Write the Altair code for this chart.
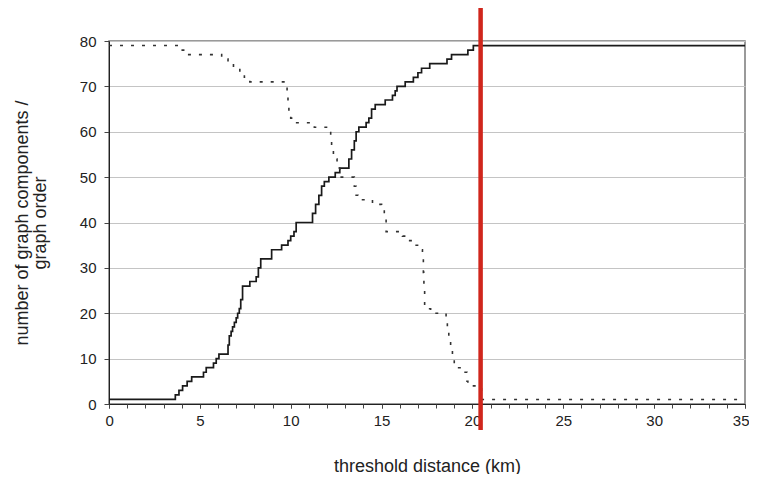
import altair as alt
import pandas as pd

# graph order (solid) - step start x (km) and value
order_x = [0, 3.65, 3.85, 4.05, 4.3, 4.55, 5.2, 5.35, 5.75, 5.9, 6.05, 6.55, 6.62, 6.72, 6.8, 6.9,
           7.0, 7.08, 7.17, 7.25, 7.35, 7.75, 8.1, 8.22, 8.35, 8.95, 9.5, 9.85, 10.0, 10.18, 10.3,
           11.2, 11.37, 11.55, 11.7, 11.85, 12.1, 12.45, 12.7, 13.2, 13.35, 13.5, 13.6, 13.75,
           14.15, 14.3, 14.45, 14.65, 15.2, 15.6, 15.75, 15.85, 16.3, 16.75, 17.0, 17.2, 17.65,
           18.6, 18.85, 19.75, 20.05, 35]
order_y = [1, 2, 3, 4, 5, 6, 7, 8, 9, 10, 11, 13, 15, 16, 17, 18,
           19, 20, 21, 23, 26, 27, 28, 30, 32, 34, 35, 36, 37, 38, 40,
           42, 44, 46, 48, 49, 50, 51, 52, 54, 56, 58, 60, 61,
           62, 63, 65, 66, 67, 68, 69, 70, 71, 72, 73, 74, 75,
           76, 77, 78, 79, 79]

# number of graph components (dotted)
comp_x = [0, 3.95, 4.3, 6.2, 6.55, 6.85, 7.2, 7.45, 7.75, 9.75, 9.8, 9.85, 9.9, 10.0, 10.2,
          11.3, 12.15, 12.2, 12.25, 12.35, 12.55, 12.7, 13.5, 13.6, 13.7, 14.5, 15.0, 15.15,
          15.25, 16.15, 16.35, 16.8, 17.15, 17.25, 17.3, 17.33, 17.37, 17.7, 18.55, 18.62,
          18.7, 18.8, 18.9, 19.0, 19.55, 19.7, 19.75, 20.5, 35]
comp_y = [79, 78, 77, 76, 75, 74, 73, 72, 71, 70, 68, 66, 64, 63, 62,
          61, 60, 58, 56, 54, 52, 50, 48, 46, 45, 44, 43, 41,
          38, 37, 36, 35, 34, 32, 29, 25, 21, 20, 19, 17,
          15, 12, 10, 8, 7, 5, 4, 1, 1]

threshold = [20.45]

x_labels = list(range(0, 36, 5))
x_minor = list(range(0, 36))
y_ticks = list(range(0, 81, 10))

order_df = pd.DataFrame({"x": order_x, "y": order_y})
comp_df = pd.DataFrame({"x": comp_x, "y": comp_y})
thr_df = pd.DataFrame({"x": threshold})

xscale = alt.Scale(domain=[0, 35], nice=False, zero=False)
yscale = alt.Scale(domain=[0, 80], nice=False)

xaxis = alt.Axis(
    orient="bottom",
    values=x_labels,
    labelOverlap=False,
    labelFlush=True,
    labelFlushOffset=4,
    title="threshold distance (km)",
    grid=False,
    tickSize=4,
    labelPadding=5,
    titlePadding=29,
    domainColor="#222222",
    tickColor="#444444",
)
xaxis_minor = alt.Axis(
    orient="bottom",
    values=x_minor,
    labels=False,
    title=None,
    grid=False,
    domain=False,
    tickSize=4,
    tickColor="#444444",
)
yaxis = alt.Axis(
    values=y_ticks,
    labelOverlap=False,
    title=["number of graph components /", "graph order"],
    grid=True,
    gridColor="#c4c4c4",
    tickSize=5,
    labelPadding=8,
    titlePadding=30,
    titleLineHeight=18,
    domainColor="#222222",
    tickColor="#444444",
)

solid = alt.Chart(order_df).mark_line(
    interpolate="step-after", color="#1a1a1a", strokeWidth=1.7
).encode(
    x=alt.X("x:Q", scale=xscale, axis=xaxis),
    y=alt.Y("y:Q", scale=yscale, axis=yaxis),
)

dotted = alt.Chart(comp_df).mark_line(
    interpolate="step-after", color="#333333", strokeWidth=1.6, strokeDash=[3, 8]
).encode(
    x=alt.X("x:Q", scale=xscale, axis=xaxis_minor),
    y=alt.Y("y:Q", scale=yscale, axis=yaxis),
)

red = alt.Chart(thr_df).mark_rule(color="#d0261c", strokeWidth=4.5).encode(
    x=alt.X("x:Q", scale=xscale, axis=None),
    y=alt.value(-35),
    y2=alt.value(389),
)

chart = alt.layer(solid, dotted, red).resolve_axis(x="independent").properties(
    width=636,
    height=363,
    autosize=alt.AutoSizeParams(type="none"),
    padding={"left": 101, "top": 33, "right": 4, "bottom": 70},
).configure_view(
    stroke="#7a7a7a", strokeWidth=1.5
).configure_axis(
    labelFont="Liberation Sans",
    titleFont="Liberation Sans",
    labelFontSize=15,
    titleFontSize=18,
    titleFontWeight="normal",
    labelColor="#222222",
    titleColor="#222222",
)

chart.save("out.html", embed_options={"renderer": "svg", "actions": False})
